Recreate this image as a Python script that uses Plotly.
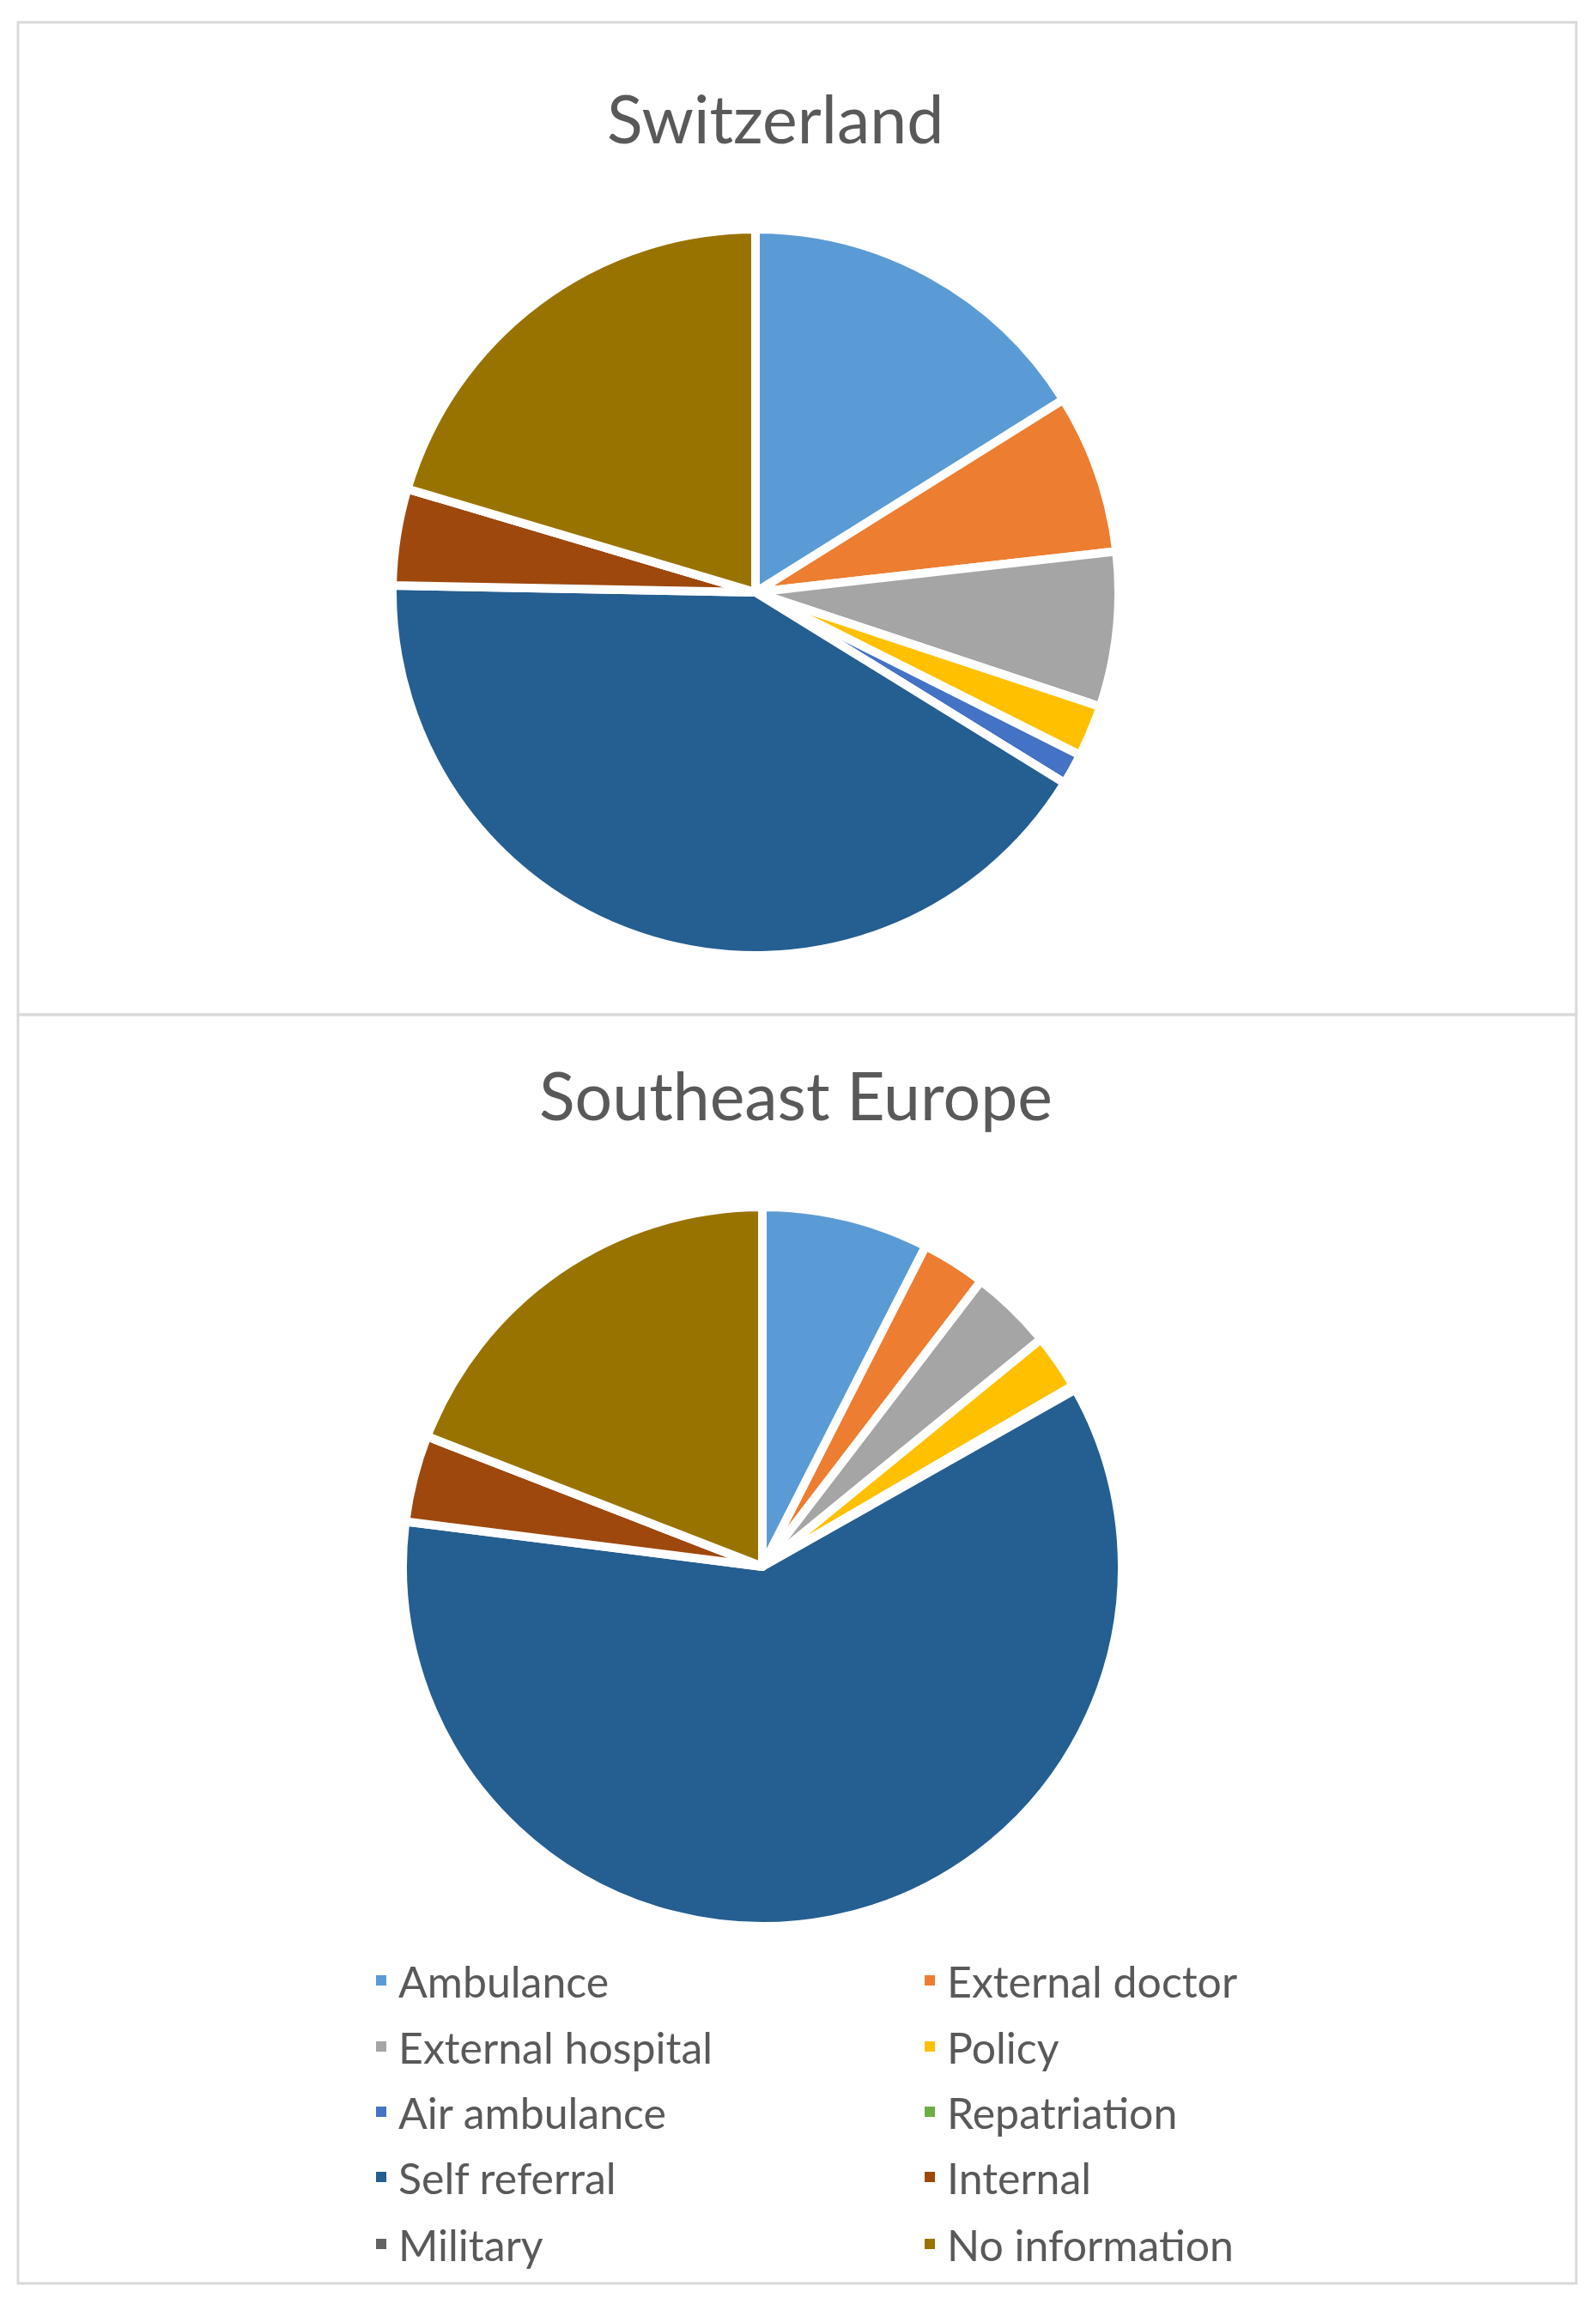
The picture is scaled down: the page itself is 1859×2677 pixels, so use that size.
import plotly.graph_objects as go

PAGE_W, PAGE_H = 1859, 2677
OFF = 8  # default body margin of the page
W, H = PAGE_W - OFF, PAGE_H - OFF

categories = ["Ambulance", "External doctor", "External hospital", "Policy",
              "Air ambulance", "Repatriation", "Self referral", "Internal",
              "Military", "No information"]
switzerland_pct = [16.1, 7.1, 6.9, 2.3, 1.4, 0.0, 41.5, 4.3, 0.0, 20.4]
southeast_europe_pct = [7.5, 2.9, 3.7, 2.5, 0.2, 0.0, 60.2, 3.9, 0.0, 19.1]
colors = ["#5B9BD5", "#ED7D31", "#A5A5A5", "#FFC000", "#4472C4",
          "#70AD47", "#255E91", "#9E480E", "#636363", "#997300"]
titles = ["Switzerland", "Southeast Europe"]

TEXT = "#595959"
FONT = "Lato"


def px_x(x):
    return (x - OFF) / W


def px_y(y):
    return 1 - (y - OFF) / H


def domain(cx, cy, r):
    return dict(x=[px_x(cx - r), px_x(cx + r)], y=[px_y(cy + r), px_y(cy - r)])


fig = go.Figure()
fig.add_trace(go.Pie(
    labels=categories, values=switzerland_pct, sort=False,
    direction="clockwise", rotation=0, textinfo="none", showlegend=False,
    marker=dict(colors=colors, line=dict(color="white", width=10)),
    domain=domain(880, 690, 423), name=titles[0],
))
fig.add_trace(go.Pie(
    labels=categories, values=southeast_europe_pct, sort=False,
    direction="clockwise", rotation=0, textinfo="none", showlegend=False,
    marker=dict(colors=colors, line=dict(color="white", width=10)),
    domain=domain(888, 1825, 419), name=titles[1],
))

# legend: two entries per row, one legend per row (carrier pies are invisible)
row_centers = [2307, 2384, 2460, 2536, 2614]
legend_layout = {}
for k, yc in enumerate(row_centers):
    key = "legend" if k == 0 else f"legend{k + 1}"
    sl = slice(2 * k, 2 * k + 2)
    fig.add_trace(go.Pie(
        labels=categories[sl], values=[1, 1], sort=False,
        textinfo="none", showlegend=True, legend=key,
        marker=dict(colors=colors[sl], line=dict(width=0)),
        domain=dict(x=[0, 0.00001], y=[0, 0.00001]), hoverinfo="skip",
    ))
    legend_layout[key] = dict(
        orientation="h", x=px_x(424), xanchor="left",
        y=px_y(yc), yanchor="middle",
        entrywidth=594, entrywidthmode="pixels",
        font=dict(family=FONT, size=50, color=TEXT),
        bgcolor="rgba(0,0,0,0)", traceorder="normal",
    )

# panel borders
for y0, y1 in [(26, 1182), (1182, 2660)]:
    fig.add_shape(type="rect", xref="paper", yref="paper",
                  x0=px_x(21), x1=px_x(1836), y0=px_y(y1), y1=px_y(y0),
                  line=dict(color="#D9D9D9", width=3), fillcolor="rgba(0,0,0,0)")

fig.add_annotation(text=titles[0], x=px_x(903), y=px_y(137), xref="paper", yref="paper",
                   showarrow=False, xanchor="center", yanchor="middle",
                   font=dict(family=FONT, size=77, color=TEXT))
fig.add_annotation(text=titles[1], x=px_x(927), y=px_y(1275), xref="paper", yref="paper",
                   showarrow=False, xanchor="center", yanchor="middle",
                   font=dict(family=FONT, size=77, color=TEXT))

fig.update_layout(
    width=W, height=H, autosize=False,
    margin=dict(l=0, r=0, t=0, b=0),
    paper_bgcolor="white", plot_bgcolor="white",
    showlegend=True,
    **legend_layout,
)

fig.write_html("out.html")
